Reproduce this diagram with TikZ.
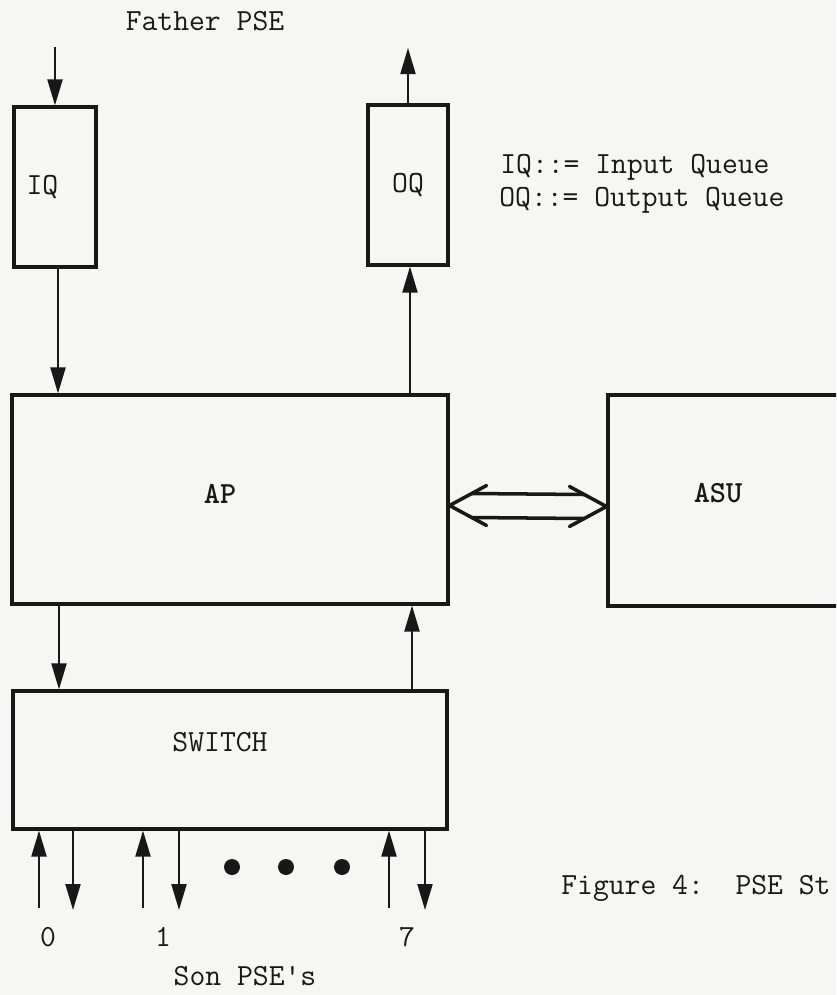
\documentclass[tikz,border=0pt]{standalone}
\usepackage{xcolor}
\usepackage{tikz}
\usetikzlibrary{arrows.meta, calc}
\definecolor{ink}{RGB}{24,24,24}
\definecolor{paper}{RGB}{246,246,245}
\newcommand{\typer}{\fontsize{17.5}{20}\ttfamily}
\tikzset{
  unit/.style={
    rectangle, draw=ink, line width=1.8pt, inner sep=0pt,
    font=\typer, text=ink
  },
  queue/.style={unit, minimum width=1.64cm, minimum height=3.2cm},
  txt/.style={font=\typer, text=ink, inner sep=0pt},
  flow/.style={draw=ink, line width=1.2pt, -{Triangle[length=0.52cm, width=0.3cm]}},
  dbl/.style={draw=ink, line width=2pt, line cap=round, line join=round},
  more/.style={circle, fill=ink, minimum size=0.32cm, inner sep=0pt},
}
\begin{document}
\begin{tikzpicture}[x=0.02cm, y=-0.02cm]
  \clip (0,0) rectangle (836,995);
  \fill[paper] (0,0) rectangle (836,995);
  \useasboundingbox (0,0) rectangle (836,995);

  % queues
  \node[queue, text width=1.14cm, align=left] (IQ) at (55,187) {IQ};
  \node[queue, minimum width=1.6cm] (OQ) at (408,185) {OQ};

  % processor, storage unit and switch
  \node[unit, minimum width=8.72cm, minimum height=4.18cm,
        label={[txt, font=\typer\bfseries, xshift=-0.2cm, yshift=0.12cm]center:AP}] (AP) at (230,499.5) {};
  \node[unit, minimum width=6cm, minimum height=4.22cm,
        label={[txt, font=\typer\bfseries, xshift=-0.8cm, yshift=0.14cm]center:ASU}] (ASU) at (758,500.5) {};
  \node[unit, minimum width=8.68cm, minimum height=2.76cm,
        label={[txt, xshift=-0.2cm, yshift=0.36cm]center:SWITCH}] (SWITCH) at (230,760) {};

  % father side
  \node[txt] (father) at (205,21) {Father PSE};
  \coordinate (fin) at (55,47);
  \coordinate (fout) at (408,48);
  \draw[flow] (fin) -- (IQ.north);
  \draw[flow] (OQ.north) -- (fout);

  % legend
  \node[txt, anchor=west] (legIQ) at (500,167) {IQ::= Input Queue};
  \node[txt, anchor=west] (legOQ) at (499,200) {OQ::= Output Queue};

  % queues <-> AP <-> SWITCH
  \draw[flow] ([xshift=0.06cm]IQ.south) -- ([xshift=0.06cm]IQ.south |- AP.north);
  \draw[flow] ([xshift=0.04cm]OQ.south |- AP.north) -- ([xshift=0.04cm]OQ.south);
  \draw[flow] ([xshift=0.08cm]IQ.south |- AP.south) -- ([xshift=0.08cm]IQ.south |- SWITCH.north);
  \draw[flow] ([xshift=0.08cm]OQ.south |- SWITCH.north) -- ([xshift=0.08cm]OQ.south |- AP.south);

  % AP <=> ASU
  \coordinate (dl) at ($(AP.east)+(0,6)$);
  \coordinate (dr) at ($(ASU.west)+(0,6)$);
  \draw[dbl] ($(dl)+(37,-20)$) -- (dl) -- ($(dl)+(37,20)$);
  \draw[dbl] ($(dr)+(-37,-20)$) -- (dr) -- ($(dr)+(-37,20)$);
  \draw[dbl] ($(dl)+(22,-12)$) -- ($(dr)+(-22,-12)$);
  \draw[dbl] ($(dl)+(22,12)$) -- ($(dr)+(-22,12)$);

  % son ports
  \foreach \up/\dn/\n/\lx in {39/73/0/48, 143/179/1/163, 389/425/7/407}{
    \coordinate (in\n) at (\up,908);
    \coordinate (out\n) at (\dn,910);
    \draw[flow] (in\n) -- (in\n |- SWITCH.south);
    \draw[flow] (out\n |- SWITCH.south) -- (out\n);
    \node[txt] (port\n) at (\lx,937) {\n};
  }
  \foreach \x/\i in {232/1, 286/2, 342/3}
    \node[more] (dot\i) at (\x,867) {};
  \node[txt] (son) at (245,976) {Son PSE\textquotesingle s};

  % caption
  \node[txt, anchor=west] (caption) at (561,888) {Figure 4:\ \ PSE St};
\end{tikzpicture}
\end{document}
